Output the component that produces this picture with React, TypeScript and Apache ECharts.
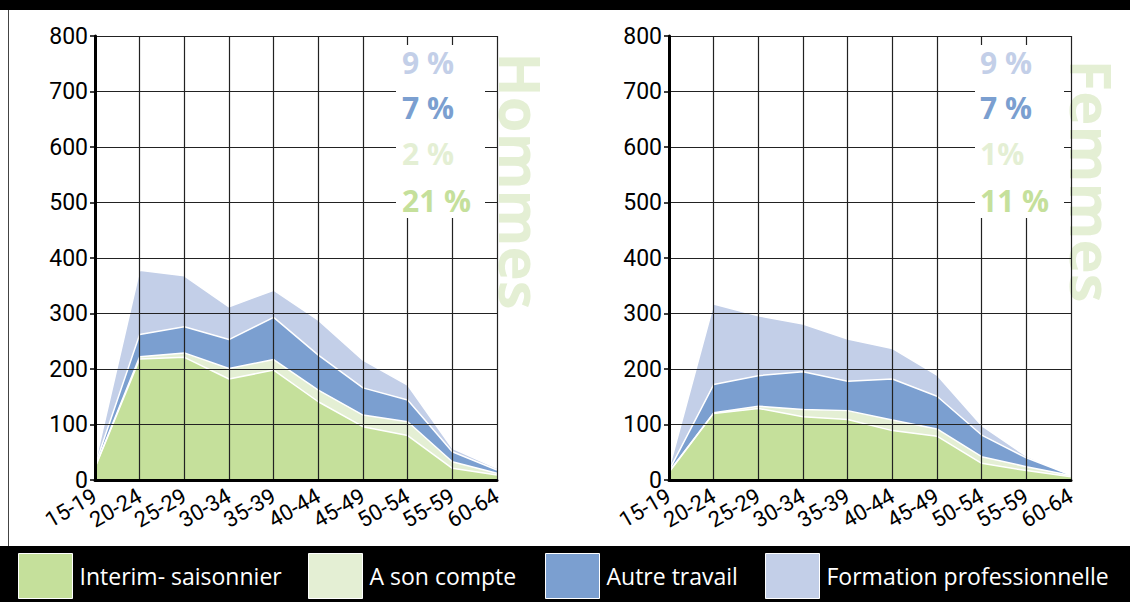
import React, { useEffect, useRef } from "react";
import * as echarts from "echarts";

const categories = ["15-19", "20-24", "25-29", "30-34", "35-39", "40-44", "45-49", "50-54", "55-59", "60-64"];
const yTicks = [0, 100, 200, 300, 400, 500, 600, 700, 800];

const seriesNames = ["Interim- saisonnier", "A son compte", "Autre travail", "Formation professionnelle"];
const seriesColors = ["#c5e09b", "#e4efd4", "#7b9fd0", "#c3cfe8"];

const hommesInterim = [22, 218, 221, 182, 198, 141, 96, 80, 21, 9];
const hommesCompte = [1, 4, 8, 19, 19, 21, 21, 25, 12, 3];
const hommesAutre = [3, 40, 47, 52, 76, 63, 49, 39, 18, 6];
const hommesFormation = [4, 116, 92, 59, 49, 63, 50, 27, 6, 3];

const femmesInterim = [14, 120, 129, 114, 109, 89, 79, 30, 17, 6];
const femmesCompte = [1, 1, 4, 13, 16, 19, 13, 12, 7, 2];
const femmesAutre = [2, 51, 55, 68, 53, 74, 59, 39, 16, 1];
const femmesFormation = [3, 145, 108, 86, 76, 55, 38, 17, 3, 0];

const hommesPct = ["9 %", "7 %", "2 %", "21 %"];
const femmesPct = ["9 %", "7 %", "1%", "11 %"];
const pctColors = ["#c3cfe8", "#7b9fd0", "#e4efd4", "#c5e09b"];

const panelTitles = ["Hommes", "Femmes"];

const FONT = "Roboto, 'DejaVu Sans', sans-serif";
const LEGEND_FONT = "'Open Sans', Roboto, sans-serif";
const BOLD_FONT = "'Open Sans', 'DejaVu Sans', sans-serif";

export default function App() {
  const ref = useRef<HTMLDivElement>(null);

  useEffect(() => {
    if (!ref.current) return;
    const chart = echarts.init(ref.current, null, { renderer: "svg" });

    const grids = [
      { left: 95, top: 36, width: 402, height: 444 },
      { left: 669, top: 36, width: 402, height: 444 },
    ];

    const xAxes = grids.map((_, i) => ({
      type: "category",
      gridIndex: i,
      data: categories,
      boundaryGap: false,
      axisLine: { show: true, lineStyle: { color: "#000", width: 3 } },
      axisTick: { show: false },
      axisLabel: {
        rotate: 30,
        fontSize: 22,
        fontFamily: FONT,
        color: "#000",
        margin: 14,
        interval: 0,
      },
      splitLine: { show: true, lineStyle: { color: "#222", width: 1.2 } },
      z: 3,
    }));

    const yAxes = grids.map((_, i) => ({
      type: "value",
      gridIndex: i,
      min: 0,
      max: yTicks[yTicks.length - 1],
      interval: 100,
      axisLine: { show: true, lineStyle: { color: "#000", width: 3 } },
      axisTick: { show: true, length: 5, lineStyle: { color: "#000", width: 1.5 } },
      axisLabel: {
        fontSize: 23,
        fontFamily: FONT,
        color: "#000",
        margin: 7,
      },
      splitLine: { show: true, lineStyle: { color: "#222", width: 1.2 } },
      z: 3,
    }));

    const panels = [
      [hommesInterim, hommesCompte, hommesAutre, hommesFormation],
      [femmesInterim, femmesCompte, femmesAutre, femmesFormation],
    ];

    const series: any[] = [];
    panels.forEach((panel, gi) => {
      panel.forEach((data, si) => {
        series.push({
          name: seriesNames[si],
          type: "line",
          xAxisIndex: gi,
          yAxisIndex: gi,
          stack: "panel" + gi,
          data,
          symbol: "none",
          color: seriesColors[si],
          itemStyle: { color: seriesColors[si], borderColor: "#fff", borderWidth: 1 },
          lineStyle: { color: "#fff", width: 1.5 },
          areaStyle: { color: seriesColors[si], opacity: 1 },
          z: 1,
        });
      });
    });

    const pctLabels = [hommesPct, femmesPct];
    const pctX = [402, 980];
    const pctY = [62, 107, 153, 200];
    const boxX = [396, 975];

    const graphics: any[] = [
      { type: "rect", shape: { x: 0, y: 0, width: 1130, height: 10 }, style: { fill: "#000" }, z: 20 },
      { type: "line", shape: { x1: 8.5, y1: 10, x2: 8.5, y2: 546 }, style: { stroke: "#444", lineWidth: 1 }, z: 20 },
      { type: "rect", shape: { x: 0, y: 546, width: 1130, height: 56 }, style: { fill: "#000" }, z: 0 },
    ];

    [0, 1].forEach((gi) => {
      graphics.push({
        type: "rect",
        shape: { x: boxX[gi], y: 45, width: 89, height: 173 },
        style: { fill: "#fff" },
        z: 10,
      });
      pctLabels[gi].forEach((t, k) => {
        graphics.push({
          type: "text",
          x: pctX[gi],
          y: pctY[k],
          style: {
            text: t,
            fill: pctColors[k],
            fontSize: 30,
            fontWeight: "bold",
            fontFamily: BOLD_FONT,
            align: "left",
            verticalAlign: "middle",
          },
          z: 11,
        });
      });
      graphics.push({
        type: "text",
        x: gi === 0 ? 521 : 1092,
        y: 181,
        rotation: -Math.PI / 2,
        style: {
          text: panelTitles[gi],
          fill: "#e4efd4",
          fontSize: 58,
          fontWeight: "bold",
          fontFamily: BOLD_FONT,
          align: "center",
          verticalAlign: "middle",
        },
        z: 0,
      });
    });

    const legendLeft = [18, 308, 545, 765];
    const legends = seriesNames.map((name, i) => ({
      data: [name],
      left: legendLeft[i],
      top: 553,
      padding: 0,
      icon: "rect",
      itemWidth: 54,
      itemHeight: 45,
      itemGap: 0,
      textStyle: { color: "#fff", fontSize: 23, fontFamily: LEGEND_FONT, padding: [0, 0, 0, 2] },
      itemStyle: { borderColor: "#fff", borderWidth: 1 },
      selectedMode: false,
    }));

    chart.setOption({
      animation: false,
      backgroundColor: "#fff",
      grid: grids,
      xAxis: xAxes,
      yAxis: yAxes,
      series,
      legend: legends,
      graphic: graphics,
    });

    return () => chart.dispose();
  }, []);

  return (
    <div
      ref={ref}
      style={{ position: "fixed", left: 0, top: 0, width: 1130, height: 602 }}
    />
  );
}
